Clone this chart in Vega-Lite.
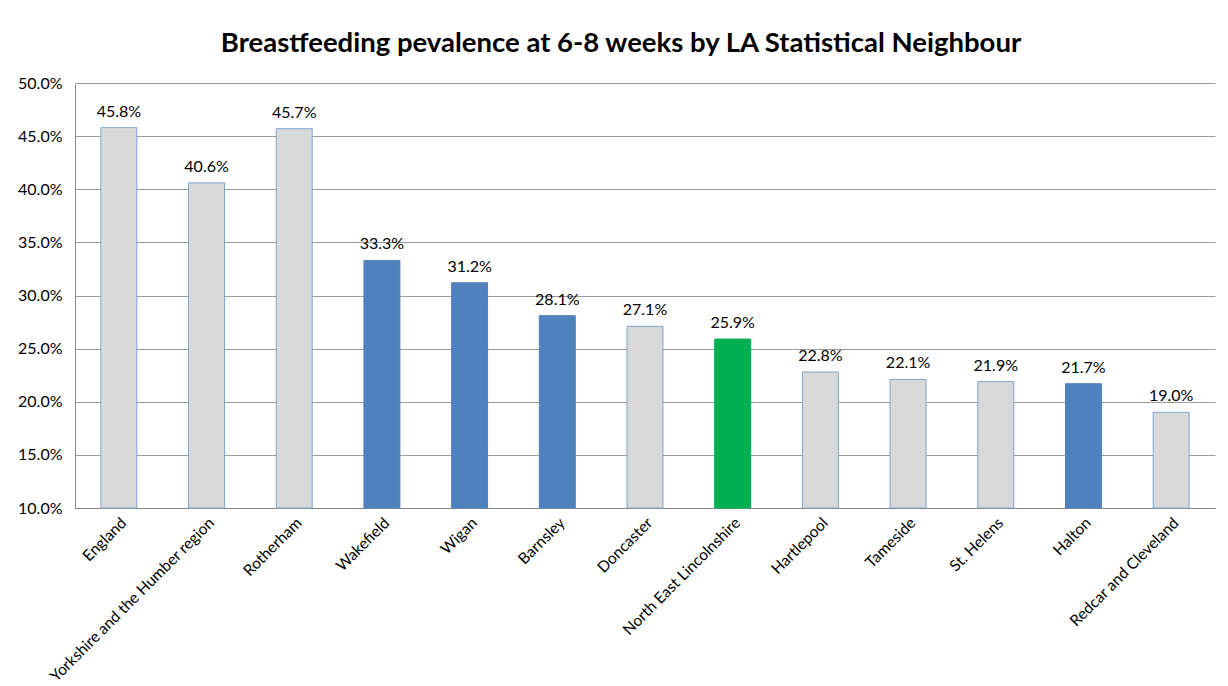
{
  "$schema": "https://vega.github.io/schema/vega-lite/v6.json",
  "width": 1140,
  "height": 425,
  "autosize": "none",
  "padding": {"left": 75, "top": 83, "right": 13, "bottom": 178},
  "background": "white",
  "title": {
    "text": "Breastfeeding pevalence at 6-8 weeks by LA Statistical Neighbour",
    "font": "Lato",
    "fontSize": 27.5,
    "fontWeight": "bold",
    "color": "#000000",
    "anchor": "middle",
    "dx": -24,
    "offset": 18
  },
  "data": {
    "values": [
      {"area": "England", "value": 0.458, "group": "comparator"},
      {"area": "Yorkshire and the Humber region", "value": 0.406, "group": "comparator"},
      {"area": "Rotherham", "value": 0.457, "group": "comparator"},
      {"area": "Wakefield", "value": 0.333, "group": "highlight"},
      {"area": "Wigan", "value": 0.312, "group": "highlight"},
      {"area": "Barnsley", "value": 0.281, "group": "highlight"},
      {"area": "Doncaster", "value": 0.271, "group": "comparator"},
      {"area": "North East Lincolnshire", "value": 0.259, "group": "nel"},
      {"area": "Hartlepool", "value": 0.228, "group": "comparator"},
      {"area": "Tameside", "value": 0.221, "group": "comparator"},
      {"area": "St. Helens", "value": 0.219, "group": "comparator"},
      {"area": "Halton", "value": 0.217, "group": "highlight"},
      {"area": "Redcar and Cleveland", "value": 0.19, "group": "comparator"}
    ]
  },
  "encoding": {
    "x": {
      "field": "area",
      "type": "nominal",
      "sort": null,
      "scale": {"paddingInner": 0.59, "paddingOuter": 0.295},
      "axis": {
        "title": null,
        "labelAngle": -45,
        "labelFont": "Lato",
        "labelFontSize": 15.5,
        "labelColor": "#000000",
        "labelPadding": 7,
        "ticks": false,
        "domainColor": "#888888",
        "labelLimit": 400
      }
    }
  },
  "layer": [
    {
      "mark": {"type": "bar", "strokeWidth": 1},
      "encoding": {
        "y": {
          "field": "value",
          "type": "quantitative",
          "scale": {"domain": [0.1, 0.5], "zero": false, "nice": false},
          "axis": {
            "title": null,
            "format": ".1%",
            "values": [0.1, 0.15, 0.2, 0.25, 0.3, 0.35, 0.4, 0.45, 0.5],
            "labelFont": "Lato",
            "labelFontSize": 16,
            "labelColor": "#000000",
            "labelPadding": 13,
            "ticks": false,
            "gridColor": "#9a9a9a",
            "gridWidth": 1,
            "domainColor": "#888888"
          }
        },
        "y2": {"datum": 0.1},
        "color": {
          "field": "group",
          "type": "nominal",
          "scale": {"domain": ["comparator", "highlight", "nel"], "range": ["#d9d9d9", "#4f81bd", "#00b050"]},
          "legend": null
        },
        "stroke": {
          "field": "group",
          "type": "nominal",
          "scale": {"domain": ["comparator", "highlight", "nel"], "range": ["#7ea3d2", "#4f81bd", "#00b050"]},
          "legend": null
        }
      }
    },
    {
      "mark": {"type": "text", "font": "Lato", "fontSize": 16, "color": "#000000", "baseline": "bottom", "dy": -8},
      "encoding": {
        "y": {"field": "value", "type": "quantitative"},
        "text": {"field": "value", "type": "quantitative", "format": ".1%"}
      }
    }
  ],
  "config": {"view": {"stroke": null}}
}
